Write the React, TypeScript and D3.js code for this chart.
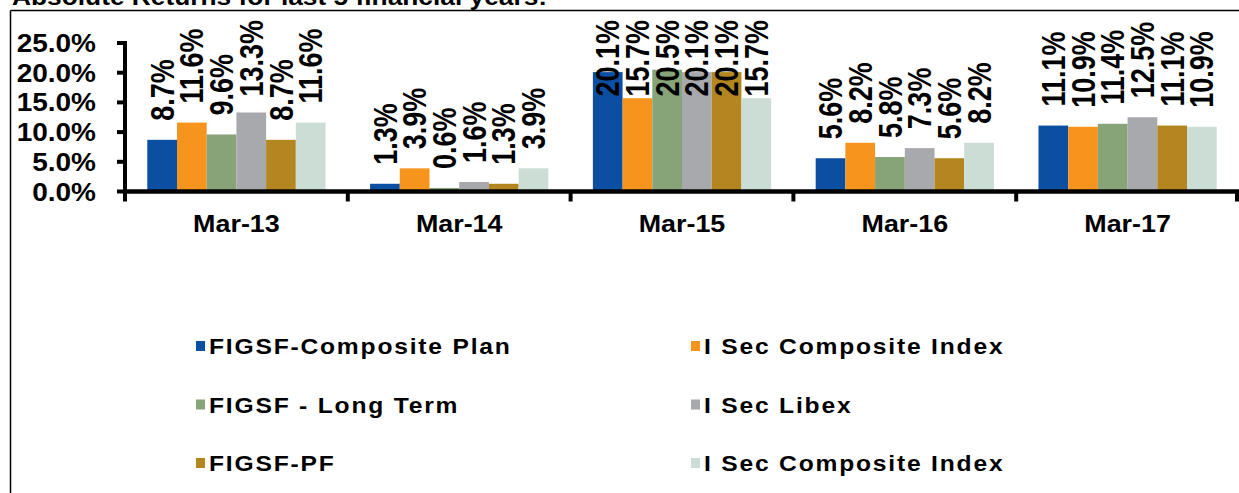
import React from "react";
import * as d3 from "d3";

const categories = ["Mar-13", "Mar-14", "Mar-15", "Mar-16", "Mar-17"];
const seriesNames = [
  "FIGSF-Composite Plan",
  "I Sec Composite Index",
  "FIGSF - Long Term",
  "I Sec Libex",
  "FIGSF-PF",
  "I Sec Composite Index",
];
const seriesColors = ["#0B4FA3", "#F7941D", "#87A378", "#A7A9AD", "#B3861F", "#CCDDD5"];
const compositePlan = [8.7, 1.3, 20.1, 5.6, 11.1];
const iSecComposite = [11.6, 3.9, 15.7, 8.2, 10.9];
const longTerm = [9.6, 0.6, 20.5, 5.8, 11.4];
const iSecLibex = [13.3, 1.6, 20.1, 7.3, 12.5];
const figsfPF = [8.7, 1.3, 20.1, 5.6, 11.1];
const iSecComposite2 = [11.6, 3.9, 15.7, 8.2, 10.9];
const seriesValues = [compositePlan, iSecComposite, longTerm, iSecLibex, figsfPF, iSecComposite2];
const yTicks = [0, 5, 10, 15, 20, 25];
const title = "Absolute Returns for last 5 financial years:";

const FONT = "'Liberation Sans', Arial, sans-serif";
const SX = 1.12;
const LSX = 1.2;

function estLen(s: string, size: number) {
  let w = 0;
  for (const c of s) {
    if (c === ".") w += 0.278;
    else if (c === "%") w += 0.889;
    else w += 0.556;
  }
  return w * size;
}

export default function App() {
  const W = 1239;
  const H = 493;
  const x0 = 125;
  const x1 = 1239;
  const yBase = 191.5;
  const yTop = 43;
  const x = d3.scaleBand<string>().domain(categories).range([x0, x1]).padding(0);
  const bw = x.bandwidth();
  const pad = (bw * 0.75) / 7.5;
  const xi = d3
    .scaleBand<number>()
    .domain(d3.range(seriesNames.length))
    .range([pad, bw - pad])
    .padding(0);
  const y = d3.scaleLinear().domain([0, 25]).range([yBase, yTop]);

  const labelSize = 27;
  const labelTopLimit = 20;
  const labelGap = 19;

  const boundaries = [...categories.map((c) => x(c)!), x1];

  return (
    <svg
      width={W}
      height={H}
      style={{ position: "absolute", left: 0, top: 0, background: "#fff" }}
      fontFamily={FONT}
    >
      <rect x={0} y={0} width={W} height={H} fill="#fff" />
      {/* title (cut off at top) */}
      <text
        transform={`translate(12,4.5) scale(${SX},1)`}
        fontSize={23.5}
        fontWeight="bold"
        fill="#000"
      >
        {title}
      </text>
      {/* frame */}
      <line x1={10.5} y1={10.5} x2={W} y2={10.5} stroke="#000" strokeWidth={1.5} />
      <line x1={10.5} y1={10.5} x2={10.5} y2={H} stroke="#000" strokeWidth={1.5} />

      {/* bars */}
      {seriesValues.map((vals, si) =>
        vals.map((v, ci) => {
          const bx = x(categories[ci])! + xi(si)!;
          return (
            <rect
              key={`b${si}-${ci}`}
              x={bx}
              y={y(v)}
              width={xi.bandwidth()}
              height={yBase - y(v)}
              fill={seriesColors[si]}
            />
          );
        })
      )}

      {/* data labels */}
      {seriesValues.map((vals, si) =>
        vals.map((v, ci) => {
          const cx = x(categories[ci])! + xi(si)! + xi.bandwidth() / 2;
          const txt = `${v.toFixed(1)}%`;
          const len = estLen(txt, labelSize);
          const bottom = y(v) - labelGap;
          const fits = bottom - len >= labelTopLimit;
          const ay = fits ? bottom : labelTopLimit;
          const ax = cx + (0.716 * labelSize * LSX) / 2;
          return (
            <text
              key={`l${si}-${ci}`}
              transform={`translate(${ax},${ay}) scale(${LSX},1) rotate(-90)`}
              textAnchor={fits ? "start" : "end"}
              fontSize={labelSize}
              fontWeight="bold"
              fill="#000"
            >
              {txt}
            </text>
          );
        })
      )}

      {/* y axis */}
      <line x1={x0} y1={yTop - 2} x2={x0} y2={yBase + 2} stroke="#000" strokeWidth={4} />
      {yTicks.map((t) => (
        <g key={`yt${t}`}>
          <line x1={x0 - 8} y1={y(t)} x2={x0} y2={y(t)} stroke="#000" strokeWidth={4} />
          <text
            transform={`translate(96,${y(t) + 9}) scale(${SX},1)`}
            textAnchor="end"
            fontSize={25}
            fontWeight="bold"
            fill="#000"
          >
            {`${t.toFixed(1)}%`}
          </text>
        </g>
      ))}

      {/* x axis */}
      <line x1={x0} y1={yBase} x2={x1} y2={yBase} stroke="#000" strokeWidth={4.5} />
      {boundaries.map((b, i) => (
        <line
          key={`xt${i}`}
          x1={Math.min(b, x1 - 2)}
          y1={yBase}
          x2={Math.min(b, x1 - 2)}
          y2={yBase + 10}
          stroke="#000"
          strokeWidth={4}
        />
      ))}
      {categories.map((c) => (
        <text
          key={`xl${c}`}
          transform={`translate(${x(c)! + bw / 2},232) scale(${SX},1)`}
          textAnchor="middle"
          fontSize={24}
          fontWeight="bold"
          fill="#000"
        >
          {c}
        </text>
      ))}

      {/* legend */}
      {seriesNames.map((name, i) => {
        const col = i % 2;
        const row = Math.floor(i / 2);
        const mx = col === 0 ? 196 : 691;
        const cy = 346 + row * 58.5;
        return (
          <g key={`lg${i}`}>
            <rect x={mx} y={cy - 5} width={9} height={10} fill={seriesColors[i]} />
            <text
              transform={`translate(${mx + 13},${cy + 8}) scale(${SX},1)`}
              fontSize={22}
              fontWeight="bold"
              letterSpacing={1.6}
              fill="#000"
            >
              {name}
            </text>
          </g>
        );
      })}
    </svg>
  );
}
